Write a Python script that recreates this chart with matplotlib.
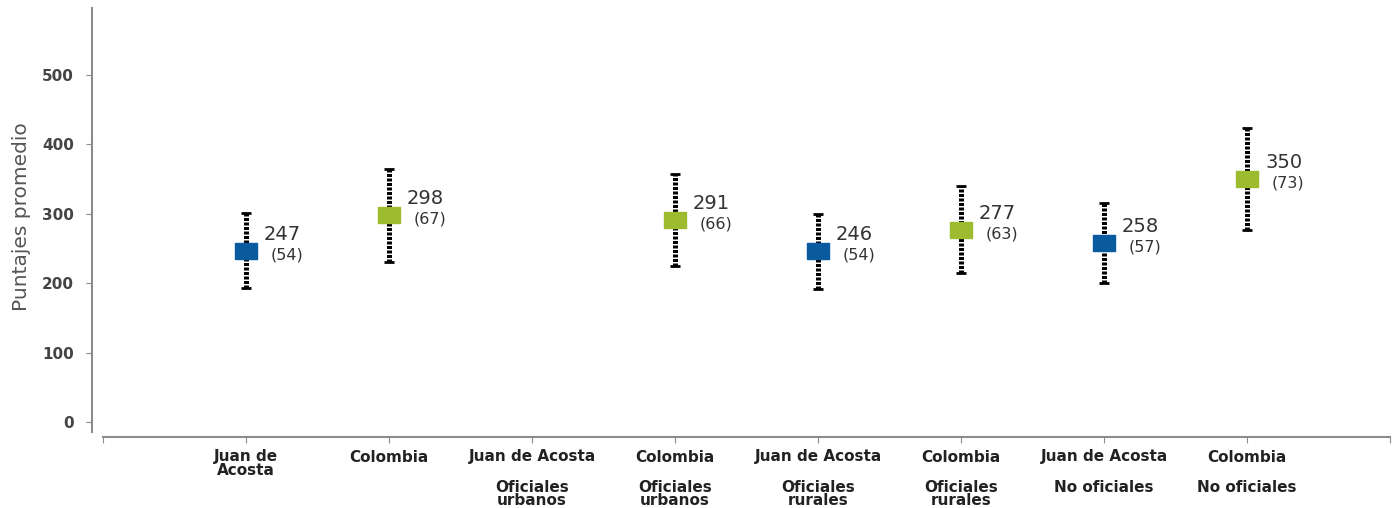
import numpy as np
import matplotlib
matplotlib.use("Agg")
import matplotlib.pyplot as plt
from matplotlib.transforms import blended_transform_factory

plt.rcParams["font.family"] = ["DejaVu Sans"]

# data
categories = ["Juan de\nAcosta", "Colombia", "Juan de Acosta", "Colombia",
              "Juan de Acosta", "Colombia", "Juan de Acosta", "Colombia"]
groups = ["", "", "Oficiales\nurbanos", "Oficiales\nurbanos",
          "Oficiales\nrurales", "Oficiales\nrurales", "No oficiales", "No oficiales"]
means = [247, 298, None, 291, 246, 277, 258, 350]
sds = [54, 67, None, 66, 54, 63, 57, 73]
is_colombia = [False, True, False, True, False, True, False, True]

blue = "#0a5aa0"
green = "#9dbb2e"

# wide flat box marker like the excel one
box = [(-11, -8), (11, -8), (11, 8), (-11, 8), (-11, -8)]

W, H = 1396, 508
fig = plt.figure(figsize=(W / 100, H / 100), dpi=100)
# axes box in pixel terms: x 103..1390, y 8..437 (from top)
ax = fig.add_axes([103 / W, (H - 437) / H, (1390 - 103) / W, (437 - 8) / H])

ax.set_xlim(-1, 8)
ax.set_ylim(-21.6, 596.5)

for i in range(len(categories)):
    if means[i] is None:
        continue
    col = green if is_colombia[i] else blue
    eb = ax.errorbar(i, means[i], yerr=sds[i], fmt="none", ecolor="black",
                     elinewidth=3.6, capsize=3.8, capthick=2.0, zorder=2)
    eb[2][0].set_linestyle((0, (0.6, 0.3)))
    ax.plot(i, means[i], marker=box, markersize=16, color=col,
            markeredgecolor=col, linestyle="none", zorder=3)
    ax.annotate(str(means[i]), (i, means[i]), xytext=(13, 5),
                textcoords="offset points", fontsize=14, color="#333333",
                ha="left", va="bottom")
    ax.annotate("(%d)" % sds[i], (i, means[i]), xytext=(18, 2.5),
                textcoords="offset points", fontsize=11.5, color="#333333",
                ha="left", va="top")

# axis styling, excel-like offset axes
for s in ["top", "right"]:
    ax.spines[s].set_visible(False)
ax.spines["left"].set_position(("outward", 8))
ax.spines["left"].set_bounds(-14, 596.5)
ax.spines["left"].set_color("#8c8c8c")
ax.spines["left"].set_linewidth(1.5)
ax.spines["bottom"].set_color("#8c8c8c")
ax.spines["bottom"].set_linewidth(1.5)

ax.set_yticks(np.arange(0, 501, 100))
ax.tick_params(axis="y", direction="out", length=4, color="#8c8c8c",
               labelsize=11, labelcolor="#444444", pad=9)
for lbl in ax.get_yticklabels():
    lbl.set_fontweight("bold")

ax.set_xticks(list(range(-1, 9)))
ax.set_xticklabels([""] + categories + [""])
ax.tick_params(axis="x", direction="out", length=4, color="#8c8c8c",
               labelsize=11, labelcolor="#222222", pad=5)
for lbl in ax.get_xticklabels():
    lbl.set_fontweight("bold")
    lbl.set_linespacing(0.85)

trans = blended_transform_factory(ax.transData, fig.transFigure)
for i in range(len(groups)):
    if groups[i]:
        ax.text(i, (H - 480) / H, groups[i], transform=trans, ha="center",
                va="top", fontsize=11, fontweight="bold",
                color="#222222", linespacing=0.85)

fig.text(22 / W, (H - 217) / H, "Puntajes promedio", rotation=90,
         ha="center", va="center", fontsize=14.5, color="#555555")

fig.savefig("out.png", dpi=100)
